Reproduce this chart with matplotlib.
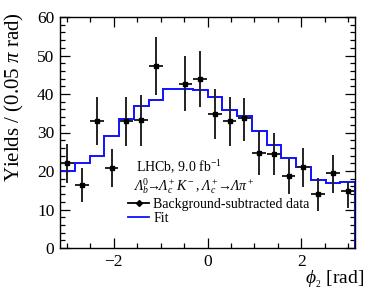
import numpy as np
import matplotlib
matplotlib.use("Agg")
import matplotlib.pyplot as plt
from matplotlib.ticker import MultipleLocator
from matplotlib.lines import Line2D

plt.rcParams['font.family'] = ['Liberation Serif', 'DejaVu Serif']
plt.rcParams['mathtext.fontset'] = 'custom'
plt.rcParams['mathtext.rm'] = 'Liberation Serif'
plt.rcParams['mathtext.it'] = 'Liberation Serif:italic'
plt.rcParams['mathtext.bf'] = 'Liberation Serif:bold'
plt.rcParams['mathtext.cal'] = 'Liberation Serif:italic'
plt.rcParams['mathtext.fallback'] = 'stix'

# ---- data ----
n_bins = 20
fit_values = [19.9, 22.0, 23.9, 29.1, 33.5, 37.0, 38.4, 41.3, 41.3, 41.0,
              39.2, 35.8, 34.3, 30.5, 26.7, 23.3, 21.1, 17.7, 17.0, 17.2]
data_values = [22.0, 16.4, 32.9, 20.8, 32.9, 33.2, 47.4, np.nan, 42.7, 43.9,
               34.7, 32.9, 33.7, 24.7, 24.4, 18.6, 21.0, 14.0, 19.4, 14.7]
err_low = [5.0, 4.4, 6.2, 5.0, 6.4, 6.6, 7.6, np.nan, 7.2, 7.3,
           6.5, 6.3, 6.0, 5.8, 5.5, 4.7, 5.2, 4.5, 5.0, 4.4]
err_high = [5.1, 4.5, 6.2, 5.0, 6.4, 6.6, 7.4, np.nan, 7.2, 7.2,
            6.5, 6.3, 5.3, 5.8, 5.5, 4.6, 5.0, 4.1, 4.8, 2.5]
x_ticks = [-2, 0, 2]
y_ticks = [0, 10, 20, 30, 40, 50, 60]

edges = np.linspace(-np.pi, np.pi, n_bins + 1)
centers = 0.5 * (edges[:-1] + edges[1:])
half_w = 0.5 * (edges[1] - edges[0])

fig = plt.figure(figsize=(3.74, 2.96), dpi=100)
ax = fig.add_axes([60/374, 48/296, 295/374, 231/296])

ax.stairs(fit_values, edges, color='#1010ff', lw=1.4, zorder=2)
ax.errorbar(centers, data_values, yerr=[err_low, err_high], xerr=half_w*0.93,
            fmt='s', ms=3.2, color='black', ecolor='#222222', elinewidth=1.4,
            capsize=0, zorder=3)

ax.set_xlim(-np.pi, np.pi)
ax.set_ylim(0, 60)
ax.set_xticks(x_ticks)
ax.set_xticklabels(['\u22122', '0', '2'])
ax.set_yticks(y_ticks)
ax.xaxis.set_minor_locator(MultipleLocator(0.5))
ax.yaxis.set_minor_locator(MultipleLocator(2))
ax.tick_params(which='both', direction='in', top=True, right=True,
               labelsize=12.5, width=0.9)
ax.tick_params(which='major', length=7, pad=4)
ax.tick_params(which='minor', length=3.5)
for s in ax.spines.values():
    s.set_linewidth(1.0)

fig.text(14/374, 1 - 12/296, r'Yields / (0.05 $\pi$ rad)', rotation=90,
         ha='center', va='top', fontsize=15)
fig.text(364/374, 1 - 283/296, r'$\phi_{_2}$ [rad]', ha='right',
         va='baseline', fontsize=14)

ax.text(0.258, 0.3476, r'LHCb, 9.0 fb$^{-1}$', transform=ax.transAxes,
        fontsize=10, va='center', ha='left')
ax.text(0.247, 0.268,
        r'$\mathcal{\Lambda}_b^0\!\!\rightarrow\!\!\mathcal{\Lambda}_c^+K^-$, '
        r'$\mathcal{\Lambda}_c^+\!\!\rightarrow\!\!\mathcal{\Lambda}\pi^+$',
        transform=ax.transAxes, fontsize=10, va='center', ha='left')

h_data = Line2D([], [], color='black', marker='D', ms=3, lw=1.3)
h_fit = Line2D([], [], color='#1010ff', lw=1.3)
ax.legend([h_data, h_fit], ['Background-subtracted data', 'Fit'],
          loc='upper left', bbox_to_anchor=(0.232, 0.218), frameon=False,
          fontsize=10, handlelength=1.5, handletextpad=0.3,
          labelspacing=0.1, borderpad=0.0, borderaxespad=0.0)

fig.savefig('out.png', dpi=100)
